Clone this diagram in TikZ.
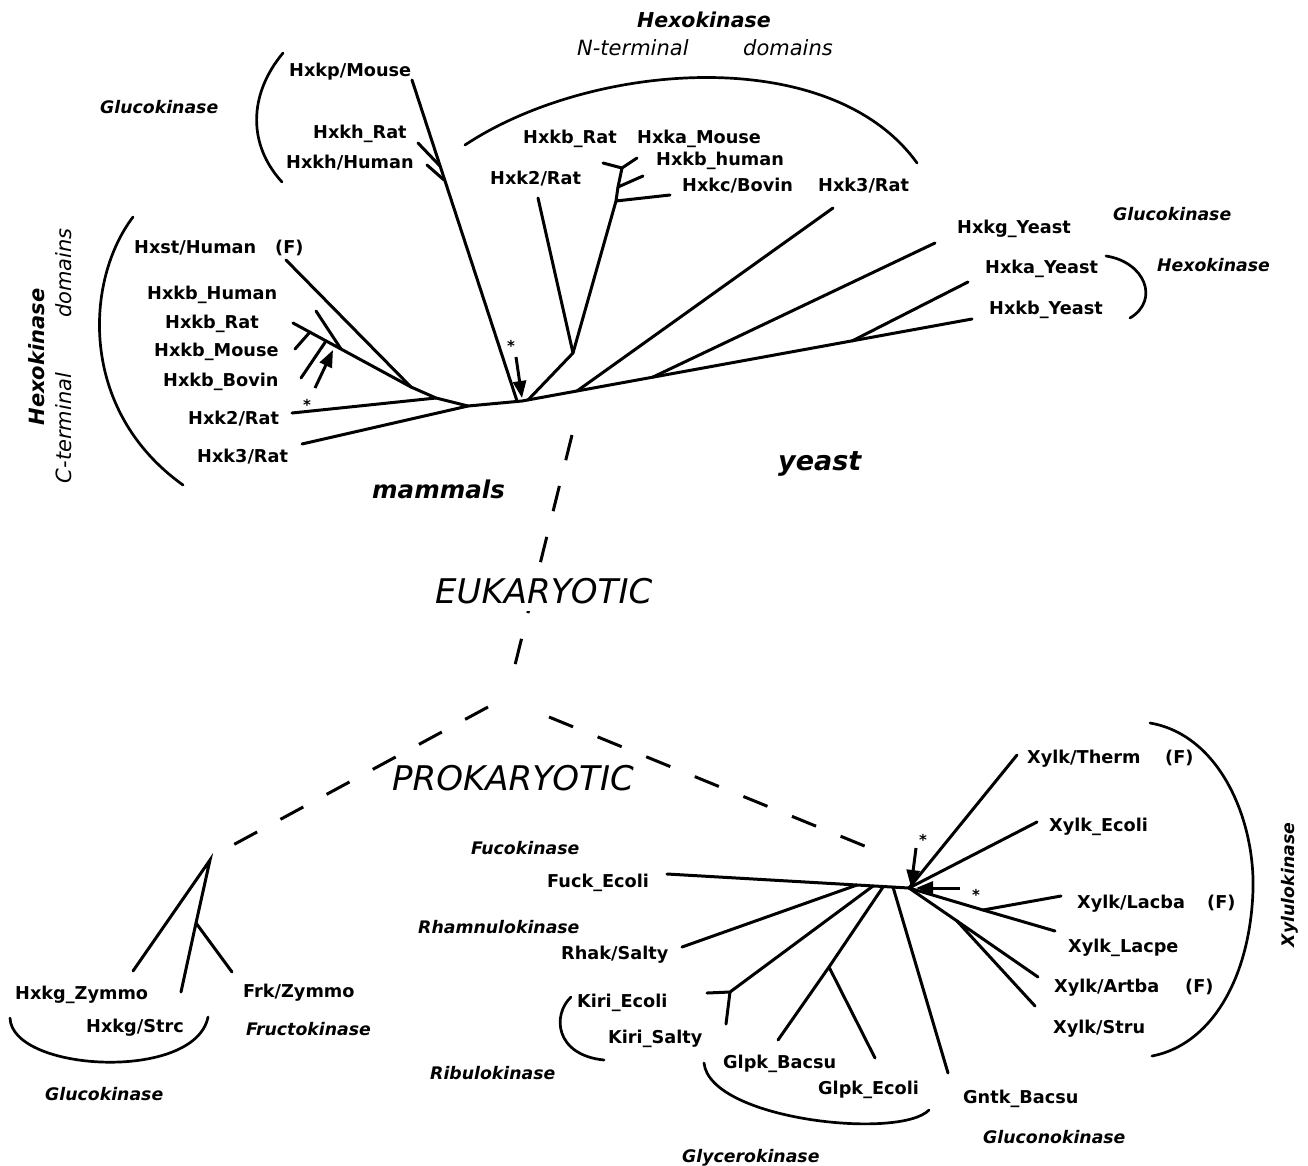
\documentclass[tikz,border=0pt]{standalone}
\usepackage{fontspec}
\usetikzlibrary{arrows.meta}
\newfontfamily\djv{DejaVu Sans}
\newcommand\labf{\djv\bfseries\fontsize{17.7}{20}\selectfont}
\newcommand\italf{\djv\bfseries\itshape\fontsize{17.3}{20}\selectfont}
\newcommand\starf{\djv\bfseries\fontsize{15}{15}\selectfont}
\begin{document}
\begin{tikzpicture}[x=1pt,y=-1pt,
  lab/.style={font=\labf,inner sep=0pt,anchor=west,text height=12.9pt,text depth=0pt},
  ital/.style={font=\italf,inner sep=0pt,anchor=west,text height=12.6pt,text depth=0pt},
  br/.style={line width=3pt,line cap=round},
  arcline/.style={line width=2.7pt,line cap=round},
  dsh/.style={line width=3pt,dash pattern=on 26pt off 26.5pt},
  arr/.style={line width=3pt,-{Triangle[length=17pt,width=13pt]}},
  starnode/.style={font=\starf,inner sep=0pt}]
\useasboundingbox (0,0) rectangle (1308,1165);

% ---------------- eukaryotic tree: coordinates
\coordinate (E) at (522,401);
\coordinate (c1) at (468,406);
\coordinate (c2) at (436,398);
\coordinate (c3) at (411,387);
\coordinate (lHxk3C) at (302,444);
\coordinate (lHxk2C) at (292,413);
\coordinate (lHxst) at (286,260);
\coordinate (lHxkbR) at (293,323);
\coordinate (b1) at (341,349);
\coordinate (lHxkbH) at (316,311);
\coordinate (b2) at (310,332);
\coordinate (lHxkbM) at (295,349);
\coordinate (b3) at (326,341);
\coordinate (lHxkbB) at (301,378);
\coordinate (aS1) at (315,388);
\coordinate (aE1) at (333,350);
\coordinate (lHxkp) at (412,80);
\coordinate (pk) at (517,401);
\coordinate (h1) at (440,166);
\coordinate (h2) at (444,180);
\coordinate (lHxkhR) at (418,143);
\coordinate (lHxkhH) at (427,165);
\coordinate (nN) at (573,353);
\coordinate (eN) at (528,400);
\coordinate (kc) at (616,201);
\coordinate (kh) at (618,187);
\coordinate (na) at (622,168);
\coordinate (lHxkbRN) at (603,163);
\coordinate (lHxkaM) at (637,158);
\coordinate (lHxkbhu) at (643,176);
\coordinate (lHxkc) at (670,195);
\coordinate (lHxk2N) at (538,198);
\coordinate (n3) at (577,391);
\coordinate (lHxk3N) at (833,208);
\coordinate (ny1) at (653,377);
\coordinate (lHxkg) at (935,243);
\coordinate (ny2) at (852,341);
\coordinate (lHxka) at (968,282);
\coordinate (lHxkbY) at (972,319);
\coordinate (aS2) at (516,357);
\coordinate (aE2) at (522,398);

% ---------------- eukaryotic tree: branches
\draw[br] (c1) -- (E) -- (lHxkbY);
\draw[br] (lHxk3C) -- (c1);
\draw[br] (lHxk2C) -- (c2);
\draw[br] (c3) -- (c2) -- (c1);
\draw[br] (lHxst) -- (c3);
\draw[br] (lHxkbR) -- (c3);
\draw[br] (lHxkbH) -- (b1);
\draw[br] (lHxkbM) -- (b2);
\draw[br] (lHxkbB) -- (b3);
\draw[arr] (aS1) -- (aE1);
\draw[br] (lHxkp) -- (pk);
\draw[br] (lHxkhR) -- (h1);
\draw[br] (lHxkhH) -- (h2);
\draw[br] (eN) -- (nN) -- (kc) -- (kh) -- (na);
\draw[br] (lHxk2N) -- (nN);
\draw[br] (lHxkbRN) -- (na) -- (lHxkaM);
\draw[br] (kh) -- (lHxkbhu);
\draw[br] (kc) -- (lHxkc);
\draw[br] (lHxk3N) -- (n3);
\draw[br] (lHxkg) -- (ny1);
\draw[br] (lHxka) -- (ny2);
\draw[arr] (aS2) -- (aE2);
\node[starnode] (st1) at (307,405) {*};
\node[starnode] (st2) at (511,346) {*};

% brackets (top)
\draw[arcline] (283,53) .. controls (248,95) and (248,145) .. (282,182);
\draw[arcline] (133,217) .. controls (85,280) and (78,410) .. (183,485);
\draw[arcline] (465,145) .. controls (590,62) and (830,42) .. (917,163);
\draw[arcline] (1106,256) .. controls (1145,262) and (1160,300) .. (1130,318);

% labels (top)
\node[ital] (gkA) at (100,107) {Glucokinase};
\node[lab] (tHxkp) at (289,70) {Hxkp/Mouse};
\node[lab] (tHxkhR) at (313,132) {Hxkh\_Rat};
\node[lab] (tHxkhH) at (286,162) {Hxkh/Human};
\node[lab] (tHxst) at (134,247) {Hxst/Human};
\node[lab] (tF1) at (275,247) {(F)};
\node[lab] (tHxkbH) at (147,293) {Hxkb\_Human};
\node[lab] (tHxkbR) at (165,322) {Hxkb\_Rat};
\node[lab] (tHxkbM) at (154,350) {Hxkb\_Mouse};
\node[lab] (tHxkbB) at (163,380) {Hxkb\_Bovin};
\node[lab] (tHxk2C) at (188,418) {Hxk2/Rat};
\node[lab] (tHxk3C) at (197,456) {Hxk3/Rat};
\node[lab] (tHxkbRN) at (523,137) {Hxkb\_Rat};
\node[lab] (tHxkaM) at (637,137) {Hxka\_Mouse};
\node[lab] (tHxkbhu) at (656,159) {Hxkb\_human};
\node[lab] (tHxk2N) at (490,178) {Hxk2/Rat};
\node[lab] (tHxkc) at (682,185) {Hxkc/Bovin};
\node[lab] (tHxk3N) at (818,185) {Hxk3/Rat};
\node[lab] (tHxkg) at (957,227) {Hxkg\_Yeast};
\node[ital] (gkB) at (1113,214) {Glucokinase};
\node[lab] (tHxka) at (985,267) {Hxka\_Yeast};
\node[ital] (hkY) at (1157,265) {Hexokinase};
\node[lab] (tHxkbY) at (989,308) {Hxkb\_Yeast};

\node[font=\djv\bfseries\itshape\fontsize{20.5}{22}\selectfont,inner sep=0pt,anchor=base west] (hkN) at (637,27) {Hexokinase};
\node[font=\djv\itshape\fontsize{21}{22}\selectfont,inner sep=0pt,anchor=base west] (ntN) at (577,55) {N-terminal};
\node[font=\djv\itshape\fontsize{21}{22}\selectfont,inner sep=0pt,anchor=base west] (dmN) at (743,55) {domains};
\node[font=\djv\bfseries\itshape\fontsize{21}{22}\selectfont,inner sep=0pt,rotate=90] (hkC) at (37,357) {Hexokinase};
\node[font=\djv\itshape\fontsize{21}{22}\selectfont,inner sep=0pt,rotate=90] (dmC) at (64,273) {domains};
\node[font=\djv\itshape\fontsize{21}{22}\selectfont,inner sep=0pt,rotate=90] (ctC) at (64,428) {C-terminal};
\node[font=\djv\bfseries\itshape\fontsize{24.5}{26}\selectfont,inner sep=0pt,anchor=base west] (mam) at (372,498) {mammals};
\node[font=\djv\bfseries\itshape\fontsize{27}{28}\selectfont,inner sep=0pt,anchor=base west] (yst) at (778,470) {yeast};

% ---------------- dashed links
\coordinate (eu1) at (572,435);
\coordinate (eu2) at (515,665);
\coordinate (prL1) at (488,707);
\coordinate (prL2) at (233,845);
\coordinate (prR1) at (549,717);
\coordinate (prR2) at (867,847);
\draw[dsh] (eu1) -- (eu2);
\draw[dsh] (prL1) -- (prL2);
\draw[dsh] (prR1) -- (prR2);
\node[font=\djv\itshape\fontsize{34}{36}\selectfont,inner sep=0pt,anchor=base west,fill=white,text depth=8pt] (euk) at (435,603) {EUKARYOTIC};
\node[font=\djv\itshape\fontsize{34}{36}\selectfont,inner sep=0pt,anchor=base west] (prok) at (392,790) {PROKARYOTIC};

% ---------------- prokaryotic tree, left
\coordinate (pL) at (210,860);
\coordinate (pL2) at (196,923);
\coordinate (lZym) at (133,971);
\coordinate (lStrc) at (181,992);
\coordinate (lFrk) at (232,972);
\draw[br] (lZym) -- (pL) -- (pL2) -- (lStrc);
\draw[br] (pL2) -- (lFrk);
\draw[arcline] (10,1018) .. controls (12,1072) and (195,1082) .. (208,1017);

\node[lab] (tZym) at (15,993) {Hxkg\_Zymmo};
\node[lab] (tStrc) at (86,1026) {Hxkg/Strc};
\node[lab] (tFrk) at (243,991) {Frk/Zymmo};
\node[ital] (fruk) at (246,1029) {Fructokinase};
\node[ital] (gkC) at (45,1094) {Glucokinase};

% ---------------- prokaryotic tree, right
\coordinate (pR) at (909,888);
\coordinate (lFuck) at (667,874);
\coordinate (r1) at (857,885);
\coordinate (r2) at (873,886);
\coordinate (r3) at (883,887);
\coordinate (r4) at (893,887);
\coordinate (lRhak) at (682,947);
\coordinate (k1) at (730,992);
\coordinate (lKiriE) at (707,993);
\coordinate (lKiriS) at (726,1024);
\coordinate (g1) at (829,967);
\coordinate (lGlpkB) at (778,1040);
\coordinate (lGlpkE) at (875,1058);
\coordinate (lGntk) at (948,1073);
\coordinate (lTherm) at (1017,755);
\coordinate (lXEc) at (1037,822);
\coordinate (x1) at (983,910);
\coordinate (lLacba) at (1061,896);
\coordinate (lLacpe) at (1055,931);
\coordinate (x2) at (957,921);
\coordinate (lArtba) at (1038,977);
\coordinate (lStru) at (1035,1006);
\coordinate (aS3) at (916,848);
\coordinate (aE3) at (911,887);
\coordinate (aS4) at (960,888);
\coordinate (aE4) at (916,888);

\draw[br] (lFuck) -- (pR);
\draw[br] (lRhak) -- (r1);
\draw[br] (r2) -- (k1) -- (lKiriE);
\draw[br] (k1) -- (lKiriS);
\draw[br] (r3) -- (g1) -- (lGlpkB);
\draw[br] (g1) -- (lGlpkE);
\draw[br] (r4) -- (lGntk);
\draw[br] (pR) -- (lTherm);
\draw[br] (pR) -- (lXEc);
\draw[br] (pR) -- (x1) -- (lLacpe);
\draw[br] (x1) -- (lLacba);
\draw[br] (pR) -- (x2) -- (lArtba);
\draw[br] (x2) -- (lStru);
\draw[arr] (aS3) -- (aE3);
\draw[arr] (aS4) -- (aE4);
\node[starnode] (st3) at (923,840) {*};
\node[starnode] (st4) at (976,895) {*};

% brackets (bottom)
\draw[arcline] (571,997) .. controls (552,1015) and (555,1055) .. (604,1060);
\draw[arcline] (704,1063) .. controls (710,1120) and (900,1140) .. (929,1110);
\draw[arcline] (1150,723) .. controls (1220,735) and (1255,820) .. (1253,890) .. controls (1250,980) and (1210,1045) .. (1152,1056);

% labels (bottom right)
\node[ital] (fuk) at (471,848) {Fucokinase};
\node[lab] (tFuck) at (547,881) {Fuck\_Ecoli};
\node[ital] (rhk) at (418,927) {Rhamnulokinase};
\node[lab] (tRhak) at (561,953) {Rhak/Salty};
\node[lab] (tKiriE) at (577,1001) {Kiri\_Ecoli};
\node[lab] (tKiriS) at (608,1037) {Kiri\_Salty};
\node[ital] (rbk) at (430,1073) {Ribulokinase};
\node[lab] (tGlpkB) at (723,1062) {Glpk\_Bacsu};
\node[lab] (tGlpkE) at (818,1088) {Glpk\_Ecoli};
\node[ital] (glyk) at (682,1156) {Glycerokinase};
\node[lab] (tGntk) at (963,1097) {Gntk\_Bacsu};
\node[ital] (glck) at (983,1137) {Gluconokinase};
\node[lab] (tTherm) at (1027,757) {Xylk/Therm};
\node[lab] (tF2) at (1165,757) {(F)};
\node[lab] (tXEc) at (1049,825) {Xylk\_Ecoli};
\node[lab] (tLacba) at (1077,902) {Xylk/Lacba};
\node[lab] (tF3) at (1207,902) {(F)};
\node[lab] (tLacpe) at (1068,946) {Xylk\_Lacpe};
\node[lab] (tArtba) at (1054,986) {Xylk/Artba};
\node[lab] (tF4) at (1185,986) {(F)};
\node[lab] (tStru) at (1053,1027) {Xylk/Stru};
\node[font=\italf,inner sep=0pt,rotate=90] (xylk) at (1290,885) {Xylulokinase};
\end{tikzpicture}
\end{document}
